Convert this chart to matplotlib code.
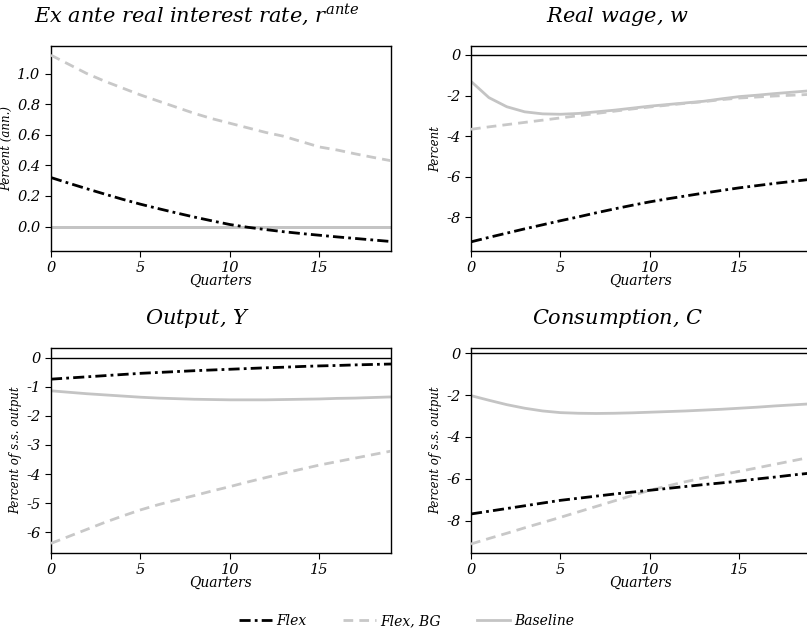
import numpy as np
import matplotlib
matplotlib.use("Agg")
import matplotlib.pyplot as plt

plt.rcParams['font.family'] = ['DejaVu Serif']
plt.rcParams['font.style'] = 'italic'
plt.rcParams['mathtext.fontset'] = 'dejavuserif'

quarters = np.arange(20)

# ex ante real rate
r_flex = [0.32, 0.283, 0.247, 0.212, 0.178, 0.146, 0.117, 0.089, 0.062, 0.037,
          0.013, -0.005, -0.02, -0.034, -0.046, -0.057, -0.068, -0.078, -0.088, -0.098]
r_flex_bg = [1.12, 1.06, 1.00, 0.95, 0.905, 0.86, 0.82, 0.78, 0.74, 0.705,
             0.675, 0.645, 0.615, 0.59, 0.555, 0.52, 0.50, 0.475, 0.452, 0.43]
r_base = [0.0] * 20

# real wage
w_flex = [-9.2, -8.98, -8.77, -8.56, -8.36, -8.16, -7.97, -7.77, -7.58, -7.4,
          -7.23, -7.08, -6.94, -6.8, -6.67, -6.54, -6.43, -6.32, -6.22, -6.12]
w_flex_bg = [-3.66, -3.54, -3.43, -3.32, -3.21, -3.1, -2.99, -2.88, -2.77, -2.66,
             -2.56, -2.47, -2.38, -2.3, -2.2, -2.12, -2.07, -2.02, -1.98, -1.94]
w_base = [-1.3, -2.1, -2.55, -2.8, -2.9, -2.92, -2.88, -2.8, -2.72, -2.62,
          -2.52, -2.44, -2.36, -2.28, -2.16, -2.05, -1.98, -1.9, -1.83, -1.76]

# output
y_flex = [-0.74, -0.7, -0.66, -0.62, -0.58, -0.54, -0.51, -0.48, -0.45, -0.425,
          -0.4, -0.375, -0.35, -0.33, -0.305, -0.285, -0.27, -0.25, -0.235, -0.22]
y_flex_bg = [-6.38, -6.14, -5.9, -5.66, -5.44, -5.23, -5.05, -4.89, -4.74, -4.58,
             -4.43, -4.27, -4.12, -3.97, -3.83, -3.69, -3.57, -3.45, -3.33, -3.21]
y_base = [-1.14, -1.19, -1.24, -1.28, -1.32, -1.36, -1.39, -1.41, -1.43, -1.44,
          -1.45, -1.45, -1.45, -1.44, -1.43, -1.42, -1.4, -1.39, -1.37, -1.35]

# consumption
c_flex = [-7.67, -7.54, -7.41, -7.28, -7.15, -7.02, -6.92, -6.82, -6.72, -6.63,
          -6.54, -6.45, -6.36, -6.27, -6.19, -6.1, -6.0, -5.91, -5.81, -5.72]
c_flex_bg = [-9.1, -8.84, -8.59, -8.33, -8.08, -7.83, -7.57, -7.31, -7.05, -6.79,
             -6.54, -6.33, -6.13, -5.95, -5.8, -5.64, -5.47, -5.3, -5.13, -4.96]
c_base = [-2.03, -2.25, -2.46, -2.63, -2.76, -2.84, -2.87, -2.88, -2.87, -2.85,
          -2.82, -2.79, -2.76, -2.72, -2.68, -2.63, -2.58, -2.52, -2.47, -2.42]

titles = [r"Ex ante real interest rate, $r^{ante}$", r"Real wage, $w$",
          r"Output, $Y$", r"Consumption, $C$"]
ylabels = ["Percent (ann.)", "Percent", "Percent of s.s. output", "Percent of s.s. output"]
ylims = [(-0.16, 1.18), (-9.65, 0.44), (-6.71, 0.33), (-9.53, 0.24)]
yticks = [[0.0, 0.2, 0.4, 0.6, 0.8, 1.0], [-8, -6, -4, -2, 0],
          [-6, -5, -4, -3, -2, -1, 0], [-8, -6, -4, -2, 0]]
series = [(r_flex, r_flex_bg, r_base), (w_flex, w_flex_bg, w_base),
          (y_flex, y_flex_bg, y_base), (c_flex, c_flex_bg, c_base)]

fig = plt.figure(figsize=(8.07, 6.32), dpi=100)
W, H = 807, 632
boxes = [(51, 46), (471, 46), (51, 348), (471, 348)]
aw, ah = 340, 205

handles = None
for i in range(4):
    x0, y0 = boxes[i]
    ax = fig.add_axes([x0 / W, 1 - (y0 + ah) / H, aw / W, ah / H])
    fl, fbg, bl = series[i]
    ax.axhline(0, color='black', lw=1.0, zorder=1)
    h3, = ax.plot(quarters, bl, color='#c4c4c4', lw=2.0, label='Baseline', zorder=2)
    h2, = ax.plot(quarters, fbg, color='#c8c8c8', lw=2.0, ls=(0, (3.5, 2.2)),
                  label='Flex, BG', zorder=3)
    h1, = ax.plot(quarters, fl, color='black', lw=2.0, ls=(0, (4, 1.5, 1, 1.5)),
                  label='Flex', zorder=4)
    handles = [h1, h2, h3]
    ax.set_xlim(0, 19)
    ax.set_ylim(*ylims[i])
    ax.set_xticks([0, 5, 10, 15])
    ax.set_yticks(yticks[i])
    if i == 0:
        ax.set_yticklabels(["%.1f" % v for v in yticks[i]])
    else:
        ax.set_yticklabels(["%d" % v for v in yticks[i]])
    ax.tick_params(direction='out', length=4, labelsize=10.5, top=False, right=False)
    ax.set_xlabel("Quarters", fontsize=10, labelpad=-1)
    ax.set_ylabel(ylabels[i], fontsize=8.5, labelpad=3)
    ax.set_title(titles[i], fontsize=15, pad=17, x=0.43)
    for s in ax.spines.values():
        s.set_linewidth(1.0)

fig.legend(handles=handles, labels=['Flex', 'Flex, BG', 'Baseline'],
           loc='center', bbox_to_anchor=(0.504, 0.017), ncol=3, frameon=False,
           fontsize=10, handlelength=2.4, columnspacing=2.6, handletextpad=0.3)

fig.savefig("out.png", dpi=100)
